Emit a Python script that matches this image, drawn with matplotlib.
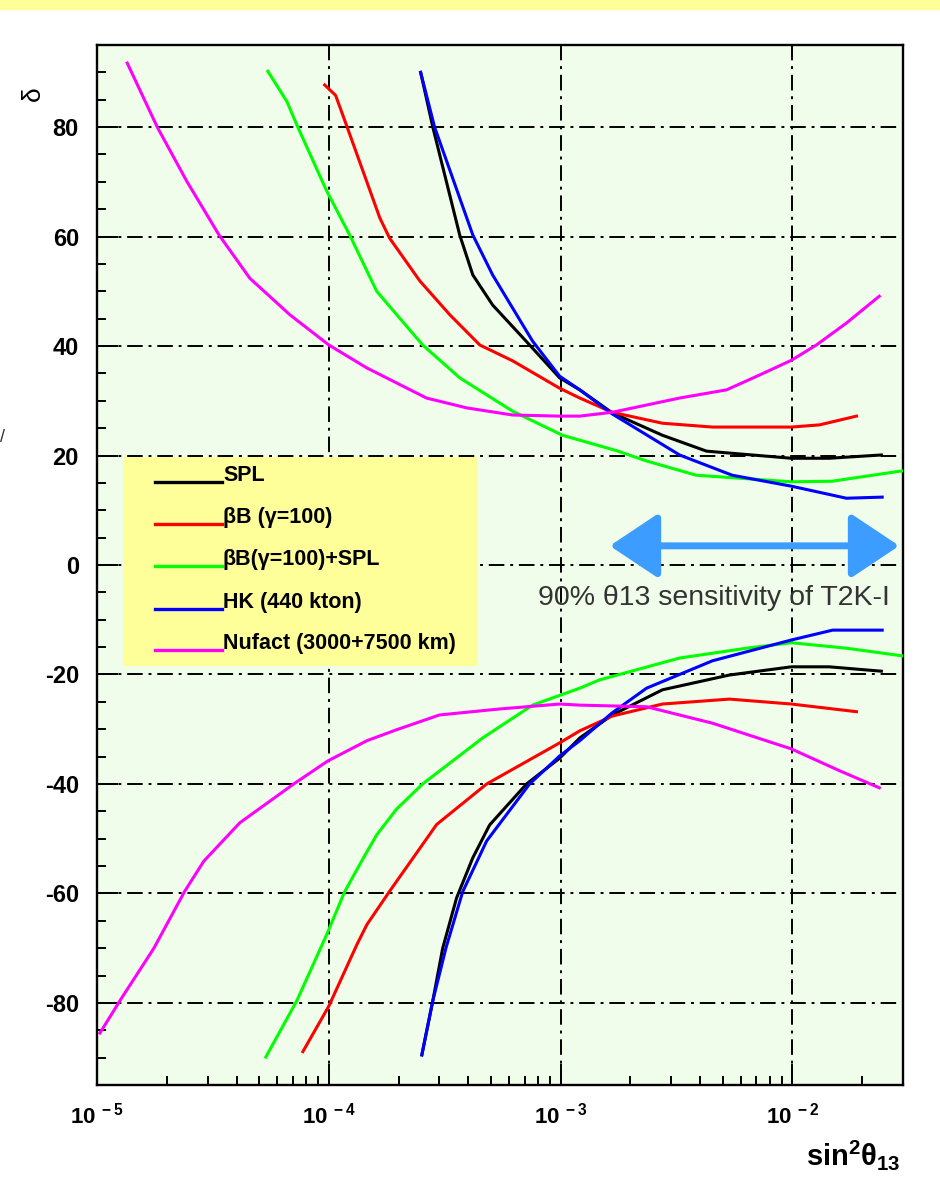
import matplotlib
matplotlib.use("Agg")
import matplotlib.pyplot as plt
from matplotlib.patches import Rectangle
from matplotlib.ticker import MultipleLocator, LogLocator, NullFormatter, FuncFormatter
import numpy as np

plt.rcParams['font.family'] = ['Liberation Sans', 'DejaVu Sans']
plt.rcParams['mathtext.fontset'] = 'custom'
plt.rcParams['mathtext.rm'] = 'Liberation Sans'
plt.rcParams['mathtext.it'] = 'Liberation Sans:italic'
plt.rcParams['mathtext.bf'] = 'Liberation Sans:bold'
plt.rcParams['axes.unicode_minus'] = False

# sin^2(theta13) vs delta, upper (delta>0) and lower (delta<0) branches
spl_up_x = [2.49e-4, 2.81e-4, 3.67e-4, 4.18e-4, 5.09e-4, 7.35e-4, 9.9e-4, 1.21e-3,
            1.67e-3, 2.75e-3, 4.26e-3, 9.9e-3, 1.44e-2, 2.42e-2]
spl_up_y = [90, 80, 60.3, 53, 47.5, 40.2, 34.2, 32, 27.8, 23.7, 20.8, 19.5, 19.5, 20.1]
spl_lo_x = [2.52e-4, 2.81e-4, 3.1e-4, 3.56e-4, 4.18e-4, 4.94e-4, 7.13e-4, 9.9e-4,
            1.21e-3, 1.67e-3, 2.75e-3, 5.35e-3, 9.9e-3, 1.44e-2, 2.42e-2]
spl_lo_y = [-89.5, -79.6, -70, -60.8, -53.5, -47.5, -40, -35.3, -31.6, -27.4, -22.8,
            -20.1, -18.6, -18.6, -19.4]

bb_up_x = [9.6e-5, 1.07e-4, 1.2e-4, 1.66e-4, 1.83e-4, 2.47e-4, 3.33e-4, 4.48e-4, 6.21e-4,
           9.9e-4, 1.21e-3, 1.67e-3, 2.75e-3, 4.52e-3, 9.9e-3, 1.31e-2, 1.89e-2]
bb_up_y = [87.7, 85.8, 80, 63.4, 59.7, 51.9, 45.7, 40.2, 37.3, 32.3, 30.5, 27.9, 25.9,
           25.2, 25.2, 25.6, 27.2]
bb_lo_x = [7.73e-5, 1.0e-4, 1.32e-4, 1.46e-4, 1.83e-4, 2.92e-4, 4.8e-4, 9.9e-4,
           1.21e-3, 1.67e-3, 2.75e-3, 5.35e-3, 9.9e-3, 1.89e-2]
bb_lo_y = [-88.9, -80.6, -69.4, -65.7, -59.6, -47.4, -40, -32.5, -30.3, -27.6,
           -25.4, -24.5, -25.4, -26.8]

bbspl_up_x = [5.46e-5, 6.59e-5, 7.35e-5, 9.8e-5, 1.23e-4, 1.61e-4, 2.54e-4, 3.67e-4,
              6.21e-4, 1.02e-3, 1.21e-3, 1.74e-3, 2.35e-3, 3.85e-3, 9.9e-3, 1.48e-2, 2.98e-2]
bbspl_up_y = [90.2, 84.7, 80, 68.3, 60.3, 50, 40.2, 34.2, 28.1, 23.7, 22.8, 20.9, 19,
              16.4, 15.2, 15.3, 17.2]
bbspl_lo_x = [5.35e-5, 7.28e-5, 9.8e-5, 1.17e-4, 1.42e-4, 1.61e-4, 1.96e-4, 2.54e-4,
              4.61e-4, 7.57e-4, 1.21e-3, 1.47e-3, 3.26e-3, 6.34e-3, 9.9e-3, 1.71e-2, 2.98e-2]
bbspl_lo_y = [-89.9, -79.6, -67.5, -59.7, -53.3, -49.3, -44.6, -40, -31.6, -25.6, -22.5,
              -21, -17, -15.2, -14.2, -15.2, -16.6]

hk_up_x = [2.49e-4, 2.86e-4, 4.18e-4, 5.09e-4, 7.57e-4, 9.9e-4, 1.21e-3, 1.67e-3,
           3.26e-3, 5.5e-3, 9.9e-3, 1.71e-2, 2.44e-2]
hk_up_y = [90, 80, 60.3, 53, 40.9, 34.5, 32, 27.6, 20.1, 16.4, 14.4, 12.2, 12.4]
hk_lo_x = [2.52e-4, 2.81e-4, 3.2e-4, 3.78e-4, 4.8e-4, 7.35e-4, 9.9e-4, 1.21e-3, 1.67e-3,
           2.35e-3, 4.52e-3, 9.9e-3, 1.49e-2, 2.44e-2]
hk_lo_y = [-89.5, -79.6, -70, -59.7, -50.4, -40, -34.9, -32.1, -27, -22.5, -17.5, -13.7,
           -11.9, -11.9]

nuf_up_x = [1.35e-5, 1.82e-5, 2.44e-5, 3.36e-5, 4.56e-5, 6.8e-5, 1.0e-4, 1.46e-4, 2.64e-4,
            3.94e-4, 6.21e-4, 9.9e-4, 1.21e-3, 1.67e-3, 3.26e-3, 5.2e-3, 7.21e-3, 9.9e-3,
            1.27e-2, 1.71e-2, 2.37e-2]
nuf_up_y = [91.7, 80, 70.1, 60.3, 52.4, 45.7, 40.2, 36, 30.5, 28.7, 27.4, 27.2, 27.2,
            27.9, 30.5, 32, 34.7, 37.4, 40.2, 44.2, 49.1]
nuf_lo_x = [1.03e-5, 1.26e-5, 1.76e-5, 2.39e-5, 2.89e-5, 4.13e-5, 7.06e-5, 9.9e-5,
            1.46e-4, 1.96e-4, 3.0e-4, 5.46e-4, 9.9e-4, 1.21e-3, 2.35e-3, 4.52e-3, 9.9e-3,
            1.6e-2, 2.37e-2]
nuf_lo_y = [-85.5, -79.5, -70, -59.6, -54.1, -47.1, -40, -35.8, -32.1, -30.1, -27.4,
            -26.3, -25.4, -25.6, -25.9, -28.9, -33.6, -37.6, -40.7]

labels = ["SPL", "βB (γ=100)", "βB(γ=100)+SPL", "HK (440 kton)", "Nufact (3000+7500 km)"]
colors = ["black", "#ff0000", "#00ff00", "#0000ff", "#ff00ff"]

# T2K-I 90% theta13 sensitivity range
t2k_x = [1.63e-3, 2.89e-2]
t2k_y = 3.5

fig = plt.figure(figsize=(9.4, 11.81), dpi=100)
fig.patches.append(Rectangle((0, 1 - 9 / 1181), 1, 9 / 1181, transform=fig.transFigure,
                             color="#ffff99", zorder=0))
ax = fig.add_axes([97 / 940, 1 - 1085 / 1181, 806 / 940, 1040 / 1181])
ax.set_facecolor("#f0fdea")

series = [(spl_up_x, spl_up_y, spl_lo_x, spl_lo_y),
          (bb_up_x, bb_up_y, bb_lo_x, bb_lo_y),
          (bbspl_up_x, bbspl_up_y, bbspl_lo_x, bbspl_lo_y),
          (hk_up_x, hk_up_y, hk_lo_x, hk_lo_y),
          (nuf_up_x, nuf_up_y, nuf_lo_x, nuf_lo_y)]
for (ux, uy, lx, ly), c in zip(series, colors):
    ax.plot(ux, uy, color=c, lw=2.2, zorder=4, solid_joinstyle="round")
    ax.plot(lx, ly, color=c, lw=2.2, zorder=4, solid_joinstyle="round")

ax.set_xscale("log")
ax.set_xlim(1e-5, 3e-2)
ax.set_ylim(-95, 95)
ax.set_yticks(range(-80, 81, 20))
ax.yaxis.set_minor_locator(MultipleLocator(5))
ax.xaxis.set_major_locator(LogLocator(base=10, numticks=10))
ax.xaxis.set_minor_locator(LogLocator(base=10, subs=range(2, 10), numticks=10))
ax.xaxis.set_major_formatter(
    FuncFormatter(lambda v, p: r"$\mathbf{10^{\ %d}}$" % int(round(np.log10(v)))))
ax.xaxis.set_minor_formatter(NullFormatter())
ax.tick_params(which="major", direction="in", length=15, width=1.4, labelsize=17,
               top=False, right=False)
ax.tick_params(axis="x", which="major", pad=13, labelsize=16)
ax.tick_params(axis="y", which="major", pad=13)
ax.tick_params(which="minor", direction="in", length=6.5, width=1.4, top=False, right=False)
for lab in ax.get_yticklabels():
    lab.set_fontweight("bold")
ax.grid(True, which="major", color="black", linestyle=(0, (8, 3, 1.5, 3)), lw=1.4, zorder=1)
for s in ax.spines.values():
    s.set_linewidth(1.7)

# legend box drawn by hand
ax.add_patch(Rectangle((0.0323, 0.4029), 0.4392, 0.2009, transform=ax.transAxes,
                       facecolor="#ffff99", edgecolor="none", zorder=3))
leg_y = [0.5798, 0.5394, 0.4990, 0.4577, 0.4183]
for lab, c, yy in zip(labels, colors, leg_y):
    ax.plot([0.072, 0.155], [yy, yy], color=c, lw=2.4, transform=ax.transAxes, zorder=5)
    ax.text(0.1563, yy + 0.001, lab, transform=ax.transAxes, fontsize=15.5,
            fontweight="bold", va="baseline", ha="left", zorder=5)

ax.annotate("", xy=(t2k_x[1], t2k_y), xytext=(t2k_x[0], t2k_y),
            arrowprops=dict(arrowstyle="<|-|>,head_length=1.5,head_width=1.0",
                            mutation_scale=20, color="#3d9cff", lw=5,
                            shrinkA=0, shrinkB=0), zorder=6)
ax.text(0.547, 0.468, "90% θ13 sensitivity of T2K-I", transform=ax.transAxes,
        fontsize=20.5, color="#333333", va="center", ha="left", zorder=6)

fig.text(900 / 940, 1 - 1165 / 1181, r"$\mathbf{sin^{2}\theta_{13}}$", fontsize=21,
         ha="right", va="baseline")
fig.text(33 / 940, 1 - 94 / 1181, "δ", fontsize=19, rotation=90, ha="center", va="center")
fig.text(0.0, 1 - 437 / 1181, "/", fontsize=13, ha="left", va="center", color="#333333")

fig.savefig("out.png", dpi=100)
